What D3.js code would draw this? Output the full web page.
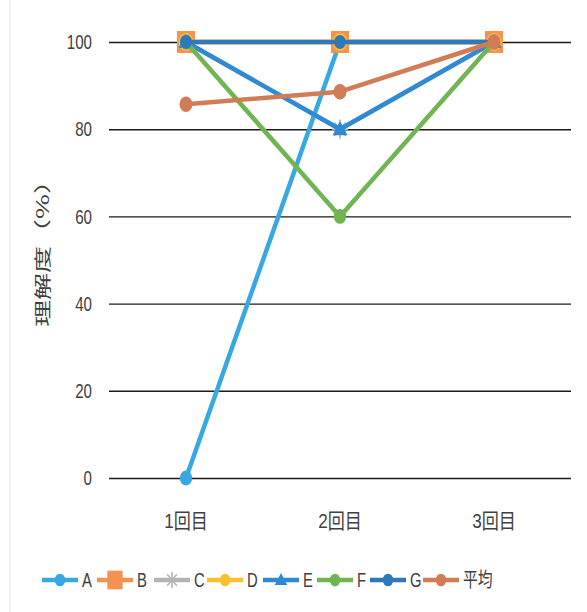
<!DOCTYPE html>
<html>
<head>
<meta charset="utf-8">
<script src="https://cdn.jsdelivr.net/npm/d3@7"></script>
<style>
  html, body { margin: 0; padding: 0; background: #fff; }
  text { font-family: "Liberation Sans", "Noto Sans CJK JP", sans-serif; fill: #404040; }
</style>
</head>
<body>
<svg id="chart" width="587" height="612"></svg>
<script>
// Rounds and understanding scores (%)
const categories = ["1回目", "2回目", "3回目"];
const seriesNames = ["A", "B", "C", "D", "E", "F", "G", "平均"];
const valuesA = [0, 100, 100];
const valuesB = [100, 100, 100];
const valuesC = [100, 80, 100];
const valuesD = [100, 100, 100];
const valuesE = [100, 80, 100];
const valuesF = [100, 60, 100];
const valuesG = [100, 100, 100];
const valuesAvg = [85.7, 88.6, 100];
const yTicks = [0, 20, 40, 60, 80, 100];

const styles = [
  { color: "#38a8e2", marker: "circle", size: 1 },
  { color: "#f7914f", marker: "square", size: 1 },
  { color: "#b4b4b4", marker: "star", size: 1 },
  { color: "#fcc02e", marker: "circle", size: 1.2 },
  { color: "#2f8ad6", marker: "triangle", size: 1 },
  { color: "#70b552", marker: "circle", size: 1 },
  { color: "#2f79bb", marker: "circle", size: 0.95 },
  { color: "#d27c56", marker: "circle", size: 1.05 }
];
const seriesValues = [valuesA, valuesB, valuesC, valuesD, valuesE, valuesF, valuesG, valuesAvg];
const series = seriesNames.map((name, i) => Object.assign({ name, values: seriesValues[i] }, styles[i]));

const svg = d3.select("#chart");
const plot = { left: 109, right: 571, top: 42, bottom: 478 };
const narrow = 0.72;

// faint outer frame edge
svg.append("line").attr("x1", 10).attr("x2", 10).attr("y1", 0).attr("y2", 612)
  .attr("stroke", "#e6e6e6").attr("stroke-width", 1);

const x = d3.scaleBand().domain(categories).range([plot.left, plot.right]);
const y = d3.scaleLinear().domain([0, 100]).range([plot.bottom, plot.top]);

// horizontal gridlines + y axis labels
const yAxis = d3.axisLeft(y).tickValues(yTicks).tickSize(-(plot.right - plot.left)).tickPadding(17);
const gy = svg.append("g").attr("transform", `translate(${plot.left},0)`).call(yAxis);
gy.select(".domain").remove();
gy.selectAll(".tick line").attr("stroke", "#1a1a1a").attr("stroke-width", 1.4);
gy.selectAll(".tick text")
  .attr("font-size", 21)
  .attr("x", -17 / narrow)
  .attr("transform", `scale(${narrow},1)`)
  .style("font-family", "'Liberation Sans', sans-serif")
  .style("fill", "#404040");

// x axis labels
const xAxis = d3.axisBottom(x).tickSize(0).tickPadding(32);
const gx = svg.append("g").attr("transform", `translate(0,${plot.bottom})`).call(xAxis);
gx.select(".domain").remove();
gx.selectAll(".tick text")
  .attr("font-size", 19)
  .attr("transform", `scale(0.9,1.1)`)
  .style("fill", "#404040");

// y axis title
svg.append("text")
  .attr("transform", `translate(49,247) rotate(-90) scale(1.5,0.95)`)
  .attr("text-anchor", "middle")
  .attr("font-size", 18)
  .style("font-family", "'Noto Sans CJK JP', sans-serif")
  .text("理解度（%）");

const cx = c => x(c) + x.bandwidth() / 2;

function drawMarker(g, type, px, py, color, scale) {
  const s = scale || 1;
  if (type === "circle") {
    g.append("ellipse").attr("cx", px).attr("cy", py).attr("rx", 6.2 * s).attr("ry", 7.4 * s).attr("fill", color);
  } else if (type === "square") {
    g.append("rect").attr("x", px - 9 * s).attr("y", py - 11 * s).attr("width", 18 * s).attr("height", 22 * s).attr("fill", color);
  } else if (type === "triangle") {
    const r = 7.5 * s;
    g.append("path").attr("d", `M${px},${py - r * 1.1}L${px + r},${py + r * 0.8}L${px - r},${py + r * 0.8}Z`).attr("fill", color);
  } else if (type === "star") {
    const r = 8 * s;
    const p = [];
    for (let i = 0; i < 4; i++) {
      const a = i * Math.PI / 4;
      p.push(`M${px - r * Math.cos(a)},${py - r * 1.2 * Math.sin(a)}L${px + r * Math.cos(a)},${py + r * 1.2 * Math.sin(a)}`);
    }
    g.append("path").attr("d", p.join("")).attr("stroke", color).attr("stroke-width", 1.6).attr("fill", "none");
  }
}

const line = d3.line().x((d, i) => cx(categories[i])).y(d => y(d));
const marks = svg.append("g");
series.forEach(s => {
  marks.append("path").datum(s.values).attr("d", line)
    .attr("fill", "none").attr("stroke", s.color).attr("stroke-width", 4.5).attr("stroke-linejoin", "round");
  s.values.forEach((v, i) => drawMarker(marks, s.marker, cx(categories[i]), y(v), s.color, s.size));
});

// legend
const legendX = [42, 97, 154, 207, 263, 317, 370, 423];
const legendY = 580;
const lg = svg.append("g");
series.forEach((s, i) => {
  const x0 = legendX[i];
  lg.append("line").attr("x1", x0).attr("x2", x0 + 36).attr("y1", legendY).attr("y2", legendY)
    .attr("stroke", s.color).attr("stroke-width", 4.5);
  drawMarker(lg, s.marker, x0 + 18, legendY, s.color, 0.85);
  lg.append("text")
    .attr("transform", `translate(${x0 + 40},${legendY + 7}) scale(0.78,1.05)`)
    .attr("font-size", 19)
    .style("fill", "#404040").text(s.name);
});
</script>
</body>
</html>
